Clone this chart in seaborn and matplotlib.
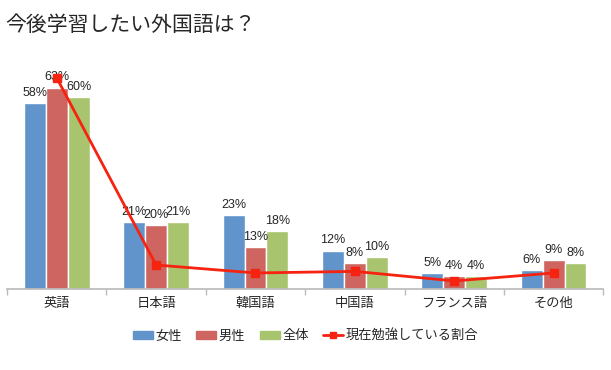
import matplotlib
matplotlib.use("Agg")
import matplotlib.pyplot as plt
import numpy as np
import pandas as pd
import seaborn as sns
from matplotlib.lines import Line2D
from matplotlib.patches import Patch

categories = ["英語", "日本語", "韓国語", "中国語", "フランス語", "その他"]
groups = ["女性", "男性", "全体"]
female = [58, 21, 23, 12, 5, 6]
male = [63, 20, 13, 8, 4, 9]
total = [60, 21, 18, 10, 4, 8]
studying_now = [66, 7.5, 5, 5.5, 2.5, 5]
line_label = "現在勉強している割合"

colors = ["#6094CB", "#CE6561", "#A8C46E"]
line_color = "#F5230F"

sns.set_theme(style="white")
plt.rcParams["font.family"] = ["Noto Sans CJK JP", "DejaVu Sans"]

df = pd.DataFrame({
    "category": categories * 3,
    "group": [g for g in groups for _ in categories],
    "value": female + male + total,
})

fig = plt.figure(figsize=(6.11, 3.70), dpi=100)
ax = fig.add_axes([0.0115, 0.219, 0.976, 0.605])

sns.barplot(data=df, x="category", y="value", hue="group", order=categories,
            hue_order=groups, palette=colors, width=0.66, saturation=1,
            legend=False, ax=ax)

# data labels above each bar
for container in ax.containers:
    ax.bar_label(container, labels=[f"{int(v)}%" for v in container.datavalues],
                 padding=3, fontsize=9, family=["Liberation Sans", "DejaVu Sans"])

ax.plot(range(len(categories)), studying_now, color=line_color, lw=2,
        marker="s", markersize=6, zorder=5)

ax.set_ylim(0, 70)
ax.set_xlim(-0.5, len(categories) - 0.5)
ax.set_xlabel("")
ax.set_ylabel("")
ax.set_yticks([])
for side in ["top", "right", "left"]:
    ax.spines[side].set_visible(False)
ax.spines["bottom"].set_color("#BBBBBB")
ax.set_xticks(np.arange(-0.5, len(categories), 1.0), minor=True)
ax.tick_params(axis="x", which="major", length=0, labelsize=9.5, pad=6)
ax.tick_params(axis="x", which="minor", length=4, color="#BBBBBB", direction="out", bottom=True)

fig.text(0.008, 0.932, "今後学習したい外国語は？", fontsize=15, va="center", ha="left")

handles = [Patch(color=c, label=g) for g, c in zip(groups, colors)]
handles.append(Line2D([], [], color=line_color, lw=2, marker="s", markersize=5, label=line_label))
fig.legend(handles=handles, loc="center", bbox_to_anchor=(0.5, 0.092), ncol=4,
           frameon=False, fontsize=9.5, handlelength=1.5, handleheight=0.6,
           handletextpad=0.2, columnspacing=1.1)

fig.savefig("out.png", dpi=100)
